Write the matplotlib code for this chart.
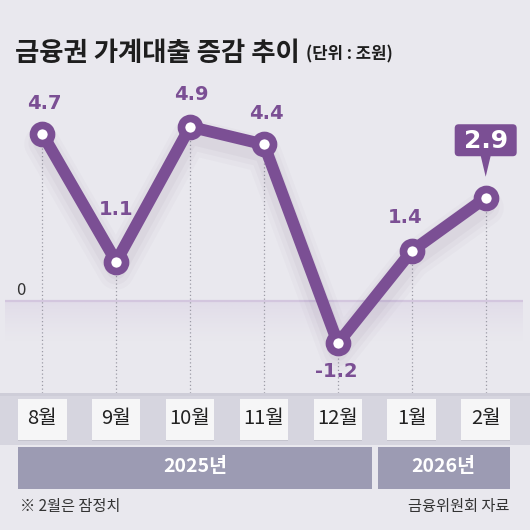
import numpy as np
import matplotlib
matplotlib.use('Agg')
import matplotlib.pyplot as plt
from matplotlib import transforms
from matplotlib.patches import Rectangle, FancyBboxPatch, Polygon

plt.rcParams['font.family'] = ['Noto Sans CJK KR', 'DejaVu Sans']

months = ['8월', '9월', '10월', '11월', '12월', '1월', '2월']
values = [4.7, 1.1, 4.9, 4.4, -1.2, 1.4, 2.9]
years = ['2025년', '2026년']
year_months = [5, 2]
title = '금융권 가계대출 증감 추이'
unit = '(단위 : 조원)'
note = '※ 2월은 잠정치'
source = '금융위원회 자료'

PURPLE = '#7b4f94'
BG = '#e9e8ee'
W = H = 530

# label offsets in pixels (dx, dy), last value is drawn in a box
label_off = [(2, 30), (0, 52), (1, 32), (2, 31), (-2, -28), (-7, 33)]

fig = plt.figure(figsize=(5.3, 5.3), dpi=100)
fig.patch.set_facecolor(BG)

# decoration layer in pixel coordinates
bg = fig.add_axes([0, 0, 1, 1], zorder=0)
bg.set_xlim(0, W)
bg.set_ylim(H, 0)
bg.axis('off')

ax = fig.add_axes([5.35 / W, 1 - 393 / H, 517.3 / W, 333 / H], zorder=1)
ax.axis('off')

x = np.arange(len(values))

# shading under zero line
grad = np.zeros((50, 2, 4))
grad[..., :3] = matplotlib.colors.to_rgb('#c2add4')
grad[..., 3] = np.linspace(0.3, 0, 50)[:, None] ** 1.3
ax.imshow(grad, extent=(-0.5, 6.5, -1.2, 0), aspect='auto', zorder=0.5,
          interpolation='bilinear')
ax.axhline(0, color='#d3c6de', lw=1.6, zorder=0.6)
ax.annotate('0', (-0.5, 0), xytext=(15, 10), textcoords='offset pixels',
            ha='center', va='center', fontsize=12, color='#333333')

ax.set_xlim(-0.5, 6.5)
ax.set_ylim(-2.6, 6.78)

# dotted guides
ax.vlines(x, -2.6, values, colors='#9c9ba6', linestyles=(0, (1, 2)), lw=0.9, zorder=1)

# soft shadow of the line
for i, (w, a) in enumerate([(26, 0.025), (20, 0.03), (14, 0.04)]):
    sh = transforms.offset_copy(ax.transData, fig=fig, x=0, y=-10 + i, units='dots')
    ax.plot(x, values, color='#4a3560', lw=w, alpha=a, transform=sh,
            solid_joinstyle='round', solid_capstyle='round', zorder=2)

ax.plot(x, values, color=PURPLE, lw=8.5, solid_joinstyle='round', zorder=3)
ax.plot(x, values, 'o', ms=13, mfc='white', mec=PURPLE, mew=5.5, zorder=4)

for xi, v, (dx, dy) in zip(x[:-1], values[:-1], label_off):
    ax.annotate('%.1f' % v, (xi, v), xytext=(dx, dy), textcoords='offset pixels',
                ha='center', va='center', fontsize=14, fontweight='bold',
                color=PURPLE, family='DejaVu Sans')

# highlighted last value
px, py = ax.transData.transform((x[-1], values[-1]))
box_tr = transforms.Affine2D().translate(px, py)
ax.add_patch(FancyBboxPatch((-31, 41.5), 62, 32, boxstyle='round,pad=0,rounding_size=4',
                            fc=PURPLE, ec='none', transform=box_tr, clip_on=False, zorder=5))
ax.add_patch(Polygon([(-5, 42), (5, 42), (0, 21)], closed=True, fc=PURPLE,
                     ec='none', transform=box_tr, clip_on=False, zorder=5))
ax.annotate('%.1f' % values[-1], (x[-1], values[-1]), xytext=(0, 57),
            textcoords='offset pixels', ha='center', va='center', fontsize=18,
            fontweight='bold', color='white', family='DejaVu Sans', zorder=6)

# month band
bg.add_patch(Rectangle((0, 393), W, 52, fc='#d6d5df', ec='none'))
bg.add_patch(Rectangle((0, 393), W, 3, fc='#cecdd8', ec='none'))
trans = transforms.blended_transform_factory(ax.transData, bg.transData)
hw = 24.3 / 73.9
for xi, m in zip(x, months):
    bg.add_patch(Rectangle((xi - hw, 400), 2 * hw, 41, fc='#c4c3cd', ec='none',
                           transform=trans))
    bg.add_patch(Rectangle((xi - hw, 399), 2 * hw, 41, fc='#f6f6f7', ec='none',
                           transform=trans))
    bg.text(xi, 418.5, m, transform=trans, ha='center', va='center',
            fontsize=14.5, color='#222222')

# year bars
g = 2.7 / 73.9
start = 0
for k, (yr, n) in enumerate(zip(years, year_months)):
    end = start + n - 1
    left = start - hw if k == 0 else start - 0.5 + g
    right = end + hw if k == len(years) - 1 else end + 0.5 - g
    bg.add_patch(Rectangle((left, 447), right - left, 42, fc='#9c9bb3', ec='none',
                           transform=trans))
    bg.text((left + right) / 2, 467, yr, transform=trans, ha='center', va='center',
            fontsize=14, fontweight='bold', color='white')
    start += n

# titles and notes
fig.text(15 / W, 1 - 61 / H, title, fontsize=19, fontweight='bold', color='#1e1e1e',
         va='baseline')
fig.text(306 / W, 1 - 59 / H, unit, fontsize=12, fontweight='bold', color='#1e1e1e',
         va='baseline')
fig.text(20 / W, 1 - 507 / H, note, fontsize=11, color='#333333', va='center')
fig.text(509 / W, 1 - 507 / H, source, fontsize=11, color='#333333', va='center',
         ha='right')

fig.savefig('out.png', dpi=100, facecolor=BG)
